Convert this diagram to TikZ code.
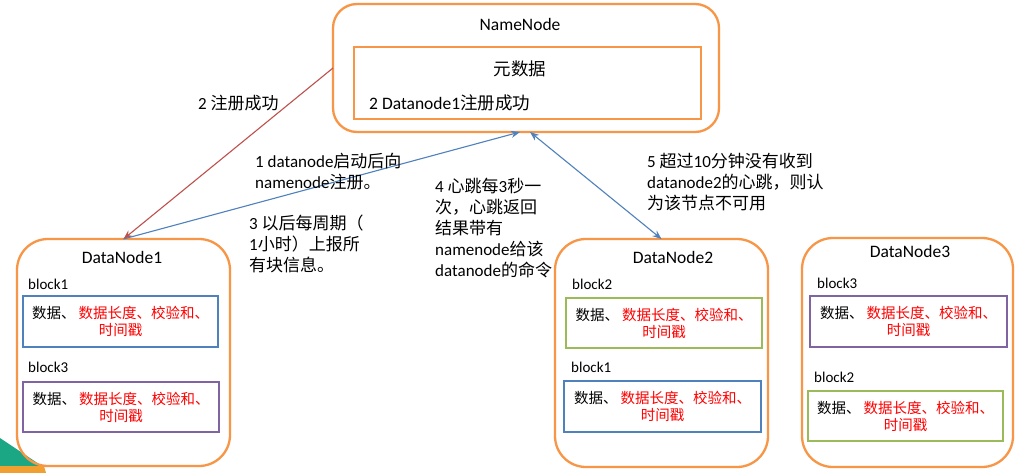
\documentclass[tikz,border=0pt]{standalone}
\usepackage{fontspec}
\setmainfont{Carlito}
\newfontfamily\cjk{Noto Sans CJK SC}
\newcommand{\zh}[1]{{\cjk #1}}
\usetikzlibrary{arrows.meta}
\definecolor{frameorange}{HTML}{F79646}
\definecolor{boxblue}{HTML}{4F81BD}
\definecolor{boxpurple}{HTML}{8064A2}
\definecolor{boxgreen}{HTML}{9BBB59}
\definecolor{arrred}{HTML}{C0504D}
\definecolor{arrblue}{HTML}{4F81BD}
\definecolor{logoteal}{HTML}{1BA784}
\definecolor{logoorange}{HTML}{F0A030}
\newcommand{\blocktext}{\zh{数据、}\hspace{3pt}\textcolor{red}{\zh{数据长度、校验和、}}\\\textcolor{red}{\zh{时间戳}}}
\begin{document}
\begin{tikzpicture}[x=1pt,y=-1pt,
  frame/.style={draw=frameorange, line width=2.3pt, rounded corners=31pt, inner sep=0pt, outer sep=0pt, anchor=north west},
  innerframe/.style={draw=frameorange, line width=2.3pt, inner sep=0pt, outer sep=0pt, anchor=north west},
  blk/.style={draw=#1, line width=2pt, inner sep=0pt, outer sep=0pt, anchor=north west, align=center,
    font=\cjk\fontsize{14.5}{17}\selectfont},
  title/.style={font=\fontsize{17.5}{21}\selectfont, inner sep=0pt},
  blabel/.style={font=\fontsize{15}{18}\selectfont, inner sep=0pt, anchor=west},
  lbl/.style={font=\fontsize{17}{21}\selectfont, inner sep=0pt, align=left, anchor=north west},
  redarrow/.style={draw=arrred, line width=1.1pt, -{Stealth[length=9pt,width=7pt]}},
  bluearrow/.style={draw=arrblue, line width=1.1pt, -{Stealth[length=9pt,width=7pt]}},
  bluedouble/.style={draw=arrblue, line width=1.1pt, {Stealth[length=9pt,width=7pt]}-{Stealth[length=9pt,width=7pt]}}
]
\useasboundingbox (0,0) rectangle (1024,473);
\fill[white] (0,0) rectangle (1024,473);
% logo fragment in the bottom-left corner
\fill[logoteal] (0,438) .. controls (15,448) and (30,458) .. (42,466) -- (46,473) -- (0,473) -- cycle;
\fill[logoorange] (0,466) -- (44,466) -- (46,473) -- (0,473) -- cycle;

% NameNode
\node[frame, rounded corners=24pt, minimum width=386pt, minimum height=128pt] (nn) at (333,4) {};
\node[innerframe, minimum width=347pt, minimum height=72pt] (meta) at (354,47) {};
\node[title] (nntitle) at (520,24) {NameNode};
\node[title] (metatitle) at (520,69) {\zh{元数据}};
\node[title, anchor=west] (metareg) at (369,103) {2 Datanode1\zh{注册成功}};

% DataNode1
\node[frame, minimum width=213pt, minimum height=227pt] (dn1) at (17,239) {};
\node[title] (dn1title) at (122,257) {DataNode1};
\node[blabel] (dn1l1) at (28,284) {block1};
\node[blk=boxblue, minimum width=195pt, minimum height=51pt] (dn1b1) at (23,296) {\blocktext};
\node[blabel] (dn1l2) at (28,367) {block3};
\node[blk=boxpurple, minimum width=196pt, minimum height=50pt] (dn1b2) at (23,382) {\blocktext};

% DataNode2
\node[frame, minimum width=213pt, minimum height=228pt] (dn2) at (555,239) {};
\node[title] (dn2title) at (673,257) {DataNode2};
\node[blabel] (dn2l1) at (572,284) {block2};
\node[blk=boxgreen, minimum width=196pt, minimum height=50pt] (dn2b1) at (566,298) {\blocktext};
\node[blabel] (dn2l2) at (571,367) {block1};
\node[blk=boxblue, minimum width=197pt, minimum height=51pt] (dn2b2) at (564,381) {\blocktext};

% DataNode3
\node[frame, minimum width=211pt, minimum height=229pt] (dn3) at (802,238) {};
\node[title] (dn3title) at (910,251) {DataNode3};
\node[blabel] (dn3l1) at (817,283) {block3};
\node[blk=boxpurple, minimum width=197pt, minimum height=51pt] (dn3b1) at (810,296) {\blocktext};
\node[blabel] (dn3l2) at (814,377) {block2};
\node[blk=boxgreen, minimum width=195pt, minimum height=50pt] (dn3b2) at (808,391) {\blocktext};

% connectors
\draw[redarrow] (nn.west) -- (dn1.north);
\draw[bluearrow] (dn1.north) -- ([xshift=-6pt]nn.south);
\draw[bluedouble] ([xshift=4pt]nn.south) -- (dn2.north);

% labels
\node[lbl, anchor=west] (l2) at (198,103) {2 \zh{注册成功}};
\node[lbl] (l1) at (255,153) {1 datanode\zh{启动后向}\\namenode\zh{注册。}};
\node[lbl] (l3) at (249,215) {3 \zh{以后每周期（}\\1\zh{小时）上报所}\\\zh{有块信息。}};
\node[lbl] (l4) at (435,178) {4 \zh{心跳每}3\zh{秒一}\\\zh{次，心跳返回}\\\zh{结果带有}\\namenode\zh{给该}\\datanode\zh{的命令}};
\node[lbl] (l5) at (647,153) {5 \zh{超过}10\zh{分钟没有收到}\\datanode2\zh{的心跳，则认}\\\zh{为该节点不可用}};
\end{tikzpicture}
\end{document}
